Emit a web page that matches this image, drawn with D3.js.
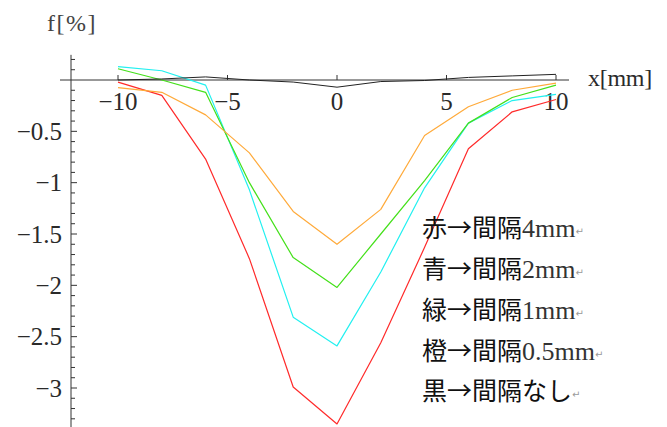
<!DOCTYPE html>
<html>
<head>
<meta charset="utf-8">
<script src="https://cdn.jsdelivr.net/npm/d3@7"></script>
<style>
  html, body { margin: 0; padding: 0; background: #ffffff; }
  svg { display: block; }
</style>
</head>
<body>
<svg id="chart" width="667" height="427"></svg>
<script>
// Positions along the sample (mm)
const xValues = [-10, -8, -6, -4, -2, 0, 2, 4, 6, 8, 10];

// Relative change f [%] for each gap width
const red4mm    = [-0.02, -0.15, -0.77, -1.74, -2.99, -3.35, -2.56, -1.63, -0.67, -0.31, -0.19];
const cyan2mm   = [0.13, 0.09, -0.05, -1.07, -2.31, -2.59, -1.87, -1.05, -0.42, -0.20, -0.14];
const green1mm  = [0.11, 0.00, -0.12, -1.00, -1.73, -2.02, -1.50, -0.98, -0.42, -0.17, -0.05];
const orange05  = [-0.075, -0.12, -0.34, -0.71, -1.28, -1.60, -1.26, -0.54, -0.26, -0.10, -0.03];
const blackNone = [0.00, 0.01, 0.03, 0.00, -0.02, -0.07, -0.015, -0.005, 0.025, 0.04, 0.055];

// Axis ticks
const xTicks = [-10, -5, 0, 5, 10];
const xTickLabels = ["−10", "−5", "0", "5", "10"];
const yTicks = [-0.5, -1, -1.5, -2, -2.5, -3];
const yTickLabels = ["−0.5", "−1", "−1.5", "−2", "−2.5", "−3"];

// Legend lines: colour word, arrow, gap description
const legendHeads = ["赤→間隔", "青→間隔", "緑→間隔", "橙→間隔", "黒→間隔"];
const legendTails = ["4mm", "2mm", "1mm", "0.5mm", "なし"];

const series = [
  { values: red4mm,    color: "#ff2a2a" },
  { values: cyan2mm,   color: "#22f0f0" },
  { values: green1mm,  color: "#44e01a" },
  { values: orange05,  color: "#ffaa3a" },
  { values: blackNone, color: "#222222" }
];

const svg = d3.select("#chart");

const x = d3.scaleLinear().domain([-10, 10]).range([118, 556]);
const y = d3.scaleLinear().domain([0, -3]).range([80, 388]);

const axisColor = "#333333";
const yAxisX = 71;
const serif = "'Liberation Serif', serif";

// Horizontal axis line
svg.append("line")
  .attr("x1", 60).attr("x2", 569)
  .attr("y1", y(0)).attr("y2", y(0))
  .attr("stroke", axisColor).attr("stroke-width", 1);

// Vertical axis line
svg.append("line")
  .attr("x1", yAxisX).attr("x2", yAxisX)
  .attr("y1", y(0.245)).attr("y2", 427)
  .attr("stroke", axisColor).attr("stroke-width", 1);

// x ticks pointing up
svg.append("g").selectAll("line")
  .data(xTicks).join("line")
  .attr("x1", d => x(d)).attr("x2", d => x(d))
  .attr("y1", y(0)).attr("y2", y(0) - 5)
  .attr("stroke", axisColor).attr("stroke-width", 1);

// x tick labels
svg.append("g").selectAll("text")
  .data(xTicks).join("text")
  .attr("x", d => x(d)).attr("y", 110)
  .attr("text-anchor", "middle")
  .attr("font-family", serif)
  .attr("font-size", 25)
  .attr("fill", "#2a2a2a")
  .text((d, i) => xTickLabels[i]);

// y minor ticks every 0.1
const yMinor = d3.range(2, -35, -1).map(v => v / 10).filter(v => v !== 0 && Math.abs(v * 2 - Math.round(v * 2)) > 1e-6);
svg.append("g").selectAll("line")
  .data(yMinor).join("line")
  .attr("x1", yAxisX).attr("x2", yAxisX + 4)
  .attr("y1", d => y(d)).attr("y2", d => y(d))
  .attr("stroke", axisColor).attr("stroke-width", 1);

// y major ticks
svg.append("g").selectAll("line")
  .data(yTicks).join("line")
  .attr("x1", yAxisX).attr("x2", yAxisX + 6)
  .attr("y1", d => y(d)).attr("y2", d => y(d))
  .attr("stroke", axisColor).attr("stroke-width", 1);

// y tick labels
svg.append("g").selectAll("text")
  .data(yTicks).join("text")
  .attr("x", 62).attr("y", d => y(d) + 8.5)
  .attr("text-anchor", "end")
  .attr("font-family", serif)
  .attr("font-size", 25)
  .attr("fill", "#2a2a2a")
  .text((d, i) => yTickLabels[i]);

// Axis titles
svg.append("text")
  .attr("x", 47).attr("y", 31)
  .attr("font-family", serif)
  .attr("font-size", 24)
  .attr("letter-spacing", 1.5)
  .attr("fill", "#444444")
  .text("f[%]");

svg.append("text")
  .attr("x", 588).attr("y", 86)
  .attr("font-family", serif)
  .attr("font-size", 24)
  .attr("letter-spacing", -0.3)
  .attr("fill", "#2a2a2a")
  .text("x[mm]");

// Curves
const line = d3.line()
  .x((d, i) => x(xValues[i]))
  .y(d => y(d));

svg.append("g").selectAll("path")
  .data(series).join("path")
  .attr("d", d => line(d.values))
  .attr("fill", "none")
  .attr("stroke", d => d.color)
  .attr("stroke-width", d => d.color === "#222222" ? 1 : 1.2)
  .attr("stroke-linejoin", "round");

// Legend text
const baselines = [237, 278, 319, 359.5, 400];
const legend = svg.append("g");
legendHeads.forEach((head, i) => {
  const t = legend.append("text")
    .attr("x", 422).attr("y", baselines[i])
    .attr("font-size", 25)
    .attr("fill", "#111111");
  t.append("tspan")
    .attr("font-family", "'Noto Sans CJK JP', sans-serif")
    .text(head);
  const tail = legendTails[i];
  const isKana = /[\u3040-\u30ff]/.test(tail);
  t.append("tspan")
    .attr("font-family", isKana ? "'Noto Sans CJK JP', sans-serif" : serif)
    .attr("font-size", isKana ? 25 : 26)
    .attr("fill", isKana ? "#111111" : "#333333")
    .text(tail);
  t.append("tspan")
    .attr("font-family", "'DejaVu Sans', sans-serif")
    .attr("font-size", 10)
    .attr("fill", "#9a9a9a")
    .attr("dy", -2)
    .text("↵");
});
</script>
</body>
</html>
